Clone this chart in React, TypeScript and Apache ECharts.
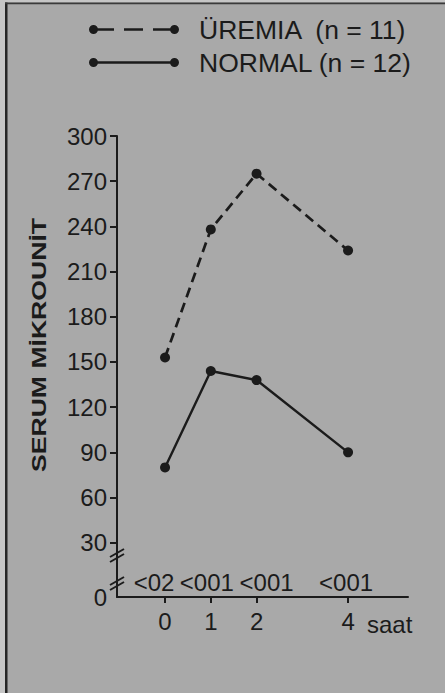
import React, { useEffect, useRef } from "react";
import * as echarts from "echarts";

// ---- data ----
const hours = [0, 1, 2, 4];
const hourLabels = ["0", "1", "2", "4"];
const uremiaName = "ÜREMIA  (n = 11)";
const normalName = "NORMAL (n = 12)";
const uremiaValues = [153, 238, 275, 224];
const normalValues = [80, 144, 138, 90];
const pValueLabels = ["<02", "<001", "<001", "<001"];
const yTicks = [30, 60, 90, 120, 150, 180, 210, 240, 270, 300];
const yAxisTitle = "SERUM MİKROUNİT";
const xUnit = "saat";

const INK = "#1b1b1b";
const BG = "#a9a9a9";
const FONT = "'Liberation Sans', Arial, Helvetica, sans-serif";
const TICK_FS = 24;

const dashedIcon =
  "path://M0,4.5a4.5,4.5 0 1,1 9,0a4.5,4.5 0 1,1 -9,0Z M7,3.2H25V5.8H7Z M35,3.2H54V5.8H35Z M64,3.2H84V5.8H64Z M81,4.5a4.5,4.5 0 1,1 9,0a4.5,4.5 0 1,1 -9,0Z";
const solidIcon =
  "path://M0,4.5a4.5,4.5 0 1,1 9,0a4.5,4.5 0 1,1 -9,0Z M7,3.3H84V5.7H7Z M81,4.5a4.5,4.5 0 1,1 9,0a4.5,4.5 0 1,1 -9,0Z";

export default function App() {
  const ref = useRef<HTMLDivElement>(null);

  useEffect(() => {
    document.body.style.margin = "0";
    if (!ref.current) return;
    const chart = echarts.init(ref.current, undefined, { renderer: "svg" });

    const pRich: Record<string, any> = {
      p0: { padding: [0, 22, 0, 0] },
      p1: { padding: [0, 8, 0, 0] },
      p2: { padding: [0, 0, 0, 20] },
      p3: { padding: [0, 4, 0, 0] },
    };
    Object.keys(pRich).forEach((k) => {
      pRich[k] = { ...pRich[k], fontSize: TICK_FS, fontFamily: FONT, color: INK };
    });

    const option: any = {
      animation: false,
      backgroundColor: BG,
      textStyle: { fontFamily: FONT, color: INK },
      grid: { left: 117, right: 37, top: 136, bottom: 96 },
      legend: {
        orient: "vertical",
        left: 89,
        top: 16,
        padding: 0,
        itemWidth: 90,
        itemHeight: 9,
        itemGap: 6,
        symbolKeepAspect: false,
        textStyle: { fontSize: 26.5, color: INK, fontFamily: FONT, padding: [0, 0, 0, 15] },
        data: [
          { name: uremiaName, icon: dashedIcon },
          { name: normalName, icon: solidIcon },
        ],
        selectedMode: false,
      },
      xAxis: [
        {
          type: "value",
          min: -1.05,
          max: 5.31,
          position: "bottom",
          splitLine: { show: false },
          axisLine: { show: true, onZero: false, lineStyle: { color: INK, width: 2 } },
          axisTick: { show: true, length: 6, customValues: hours, lineStyle: { color: INK, width: 2 } },
          axisLabel: {
            customValues: hours,
            formatter: (v: number) => hourLabels[hours.indexOf(v)] ?? "",
            fontSize: TICK_FS,
            color: INK,
            fontFamily: FONT,
            margin: 12,
          },
        },
        {
          type: "value",
          min: -1.05,
          max: 5.31,
          position: "bottom",
          splitLine: { show: false },
          axisLine: { show: false },
          axisTick: { show: false },
          axisLabel: {
            inside: true,
            margin: 3,
            customValues: hours,
            formatter: (v: number) => {
              const i = hours.indexOf(v);
              return i < 0 ? "" : `{p${i}|${pValueLabels[i]}}`;
            },
            rich: pRich,
            fontSize: TICK_FS,
            color: INK,
            fontFamily: FONT,
          },
        },
      ],
      yAxis: {
        type: "value",
        min: -6,
        max: 300,
        splitLine: { show: false },
        axisLine: { show: true, onZero: false, lineStyle: { color: INK, width: 2 } },
        axisTick: { show: true, length: 7, customValues: yTicks, lineStyle: { color: INK, width: 2 } },
        axisLabel: {
          customValues: [-6, ...yTicks],
          formatter: (v: number) => (v < 0 ? "0" : String(v)),
          fontSize: TICK_FS,
          color: INK,
          fontFamily: FONT,
          margin: 10,
        },
      },
      series: [
        {
          type: "line",
          name: uremiaName,
          data: hours.map((h, i) => [h, uremiaValues[i]]),
          symbol: "circle",
          symbolSize: 10,
          itemStyle: { color: INK },
          lineStyle: { color: INK, width: 2.7, type: [10, 6] },
          z: 5,
        },
        {
          type: "line",
          name: normalName,
          data: hours.map((h, i) => [h, normalValues[i]]),
          symbol: "circle",
          symbolSize: 10,
          itemStyle: { color: INK },
          lineStyle: { color: INK, width: 2.4 },
          z: 5,
        },
      ],
      graphic: [
        { type: "rect", shape: { x: 0, y: 0, width: 5, height: 693 }, style: { fill: "#c6c6c6" }, silent: true },
        { type: "rect", shape: { x: 0, y: 0, width: 445, height: 2.5 }, style: { fill: "#c6c6c6" }, silent: true },
        { type: "rect", shape: { x: 5, y: 2.5, width: 2.5, height: 691 }, style: { fill: "#262626" }, silent: true },
        { type: "rect", shape: { x: 5, y: 2.5, width: 440, height: 1.8 }, style: { fill: "#3a3a3a" }, silent: true },
        // axis break marks
        { type: "line", shape: { x1: 110, y1: 557, x2: 124, y2: 549 }, style: { stroke: INK, lineWidth: 2 } },
        { type: "line", shape: { x1: 110, y1: 562, x2: 124, y2: 554 }, style: { stroke: INK, lineWidth: 2 } },
        { type: "line", shape: { x1: 110, y1: 585, x2: 124, y2: 577 }, style: { stroke: INK, lineWidth: 2 } },
        { type: "line", shape: { x1: 110, y1: 590, x2: 124, y2: 582 }, style: { stroke: INK, lineWidth: 2 } },
        {
          type: "text",
          x: 367,
          y: 624,
          style: { text: xUnit, fontSize: TICK_FS, fontFamily: FONT, fill: INK, align: "left", verticalAlign: "middle" },
        },
        {
          type: "text",
          x: 39,
          y: 345,
          rotation: Math.PI / 2,
          scaleX: 1.33,
          style: {
            text: yAxisTitle,
            fontSize: 20,
            fontWeight: "bold",
            fontFamily: FONT,
            fill: INK,
            align: "center",
            verticalAlign: "middle",
          },
        },
      ],
    };

    chart.setOption(option);
    return () => chart.dispose();
  }, []);

  return <div ref={ref} style={{ width: 445, height: 693 }} />;
}
